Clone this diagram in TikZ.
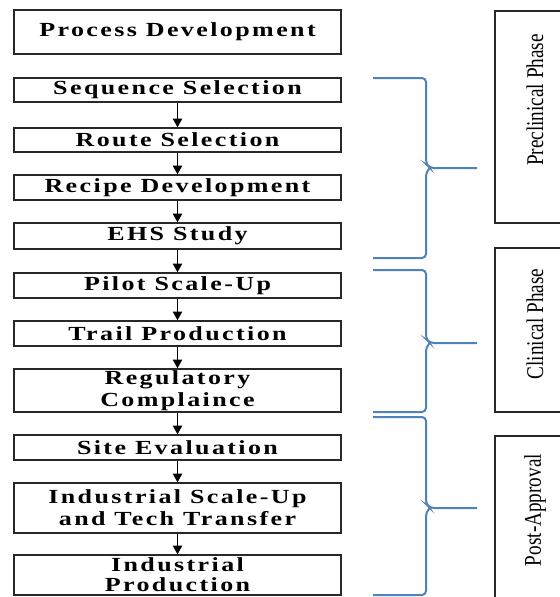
\documentclass[tikz,border=0pt]{standalone}
\usepackage{fontspec}
\setmainfont{Liberation Serif}
\newfontfamily\boxfont{Liberation Serif}[FakeStretch=1.3,LetterSpace=12]
\newfontfamily\phasefont{Liberation Serif}[FakeStretch=0.8]
\usetikzlibrary{arrows.meta}

\tikzset{every picture/.style={line width=0.75pt}}
\tikzset{
  stepbox/.style={draw={rgb, 255:red, 40; green, 40; blue, 40}, line width=1.1pt, minimum width=245.25pt, inner sep=0pt, align=center, font=\boxfont\bfseries\fontsize{15}{16.5}\selectfont},
  phasebox/.style={draw={rgb, 255:red, 40; green, 40; blue, 40}, line width=0.9pt, minimum width=60pt, inner sep=0pt},
  phasetext/.style={rotate=90, inner sep=0pt, font=\phasefont\fontsize{18}{20}\selectfont},
  flowarrow/.style={-{Triangle[length=6.5pt,width=7pt]}, line width=1.2pt},
  bracket/.style={draw={rgb, 255:red, 79; green, 129; blue, 189}, line width=1.5pt, rounded corners=3pt}
}

\begin{document}
\begin{tikzpicture}[x=0.75pt,y=0.75pt,yscale=-1,xscale=1]
\useasboundingbox (0,0) rectangle (560,597);

% Text Node
\node (proc) [stepbox, minimum height=33pt] at (177.5,32) {Process Development};
% Text Node
\node (seq) [stepbox, minimum height=18pt] at (177.5,90) {Sequence Selection};
% Text Node
\node (route) [stepbox, minimum height=18pt] at (177.5,140) {Route Selection};
% Text Node
\node (recipe) [stepbox, minimum height=18.75pt] at (177.5,187.5) {Recipe Development};
% Text Node
\node (ehs) [stepbox, minimum height=19.5pt] at (177.5,236) {EHS Study};
% Text Node
\node (pilot) [stepbox, minimum height=18.75pt] at (177.5,285.5) {Pilot Scale-Up};
% Text Node
\node (trail) [stepbox, minimum height=18.75pt] at (177.5,333.5) {Trail Production};
% Text Node
\node (regul) [stepbox, minimum height=32.25pt] at (177.5,390.5) {Regulatory\\Complaince};
% Text Node
\node (site) [stepbox, minimum height=18.75pt] at (177.5,447.5) {Site Evaluation};
% Text Node
\node (scaleup) [stepbox, minimum height=37.5pt] at (177.5,508) {Industrial Scale-Up\\and Tech Transfer};
% Text Node
\node (indprod) [stepbox, minimum height=30pt, font=\boxfont\bfseries\fontsize{15}{15}\selectfont] at (177.5,575) {Industrial\\Production};

%Straight Lines
\draw [flowarrow] (seq) -- (route);
\draw [flowarrow] (route) -- (recipe);
\draw [flowarrow] (recipe) -- (ehs);
\draw [flowarrow] (ehs) -- (pilot);
\draw [flowarrow] (pilot) -- (trail);
\draw [flowarrow] (trail) -- (regul);
\draw [flowarrow] (regul) -- (site);
\draw [flowarrow] (site) -- (scaleup);
\draw [flowarrow] (scaleup) -- (indprod);

%Right Brace
\draw [bracket] (373,78) -- (426,78) -- (426,164) -- (430,168) -- (477,168) ;
\draw [bracket] (430,168) -- (426,172) -- (426,258) -- (373,258) ;
%Right Brace
\draw [bracket] (373,270) -- (426,270) -- (426,339) -- (430,343) -- (477,343) ;
\draw [bracket] (430,343) -- (426,347) -- (426,412) -- (373,412) ;
%Right Brace
\draw [bracket] (373,417) -- (426,417) -- (426,504) -- (430,508) -- (477,508) ;
\draw [bracket] (430,508) -- (426,512) -- (426,595) -- (373,595) ;

%Shape: Rectangle
\node (precbox) [phasebox, minimum height=159pt] at (535,117) {};
\node (clinbox) [phasebox, minimum height=123pt] at (535,330) {};
\node (postbox) [phasebox, minimum height=138pt] at (535,528) {};

% Text Node
\node (prectext) [phasetext] at (535,100) {Preclinical Phase};
% Text Node
\node (clintext) [phasetext] at (535,324) {Clinical Phase};
% Text Node
\node (posttext) [phasetext] at (535,510) {Post-Approval};

\end{tikzpicture}
\end{document}
